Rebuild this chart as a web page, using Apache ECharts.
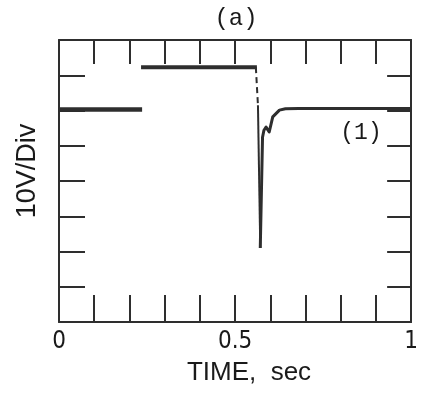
<!DOCTYPE html>
<html>
<head>
<meta charset="utf-8">
<script src="https://cdn.jsdelivr.net/npm/echarts@6/dist/echarts.min.js"></script>
<style>
  html, body { margin: 0; padding: 0; background: #fff; }
  #chart { width: 421px; height: 402px; }
</style>
</head>
<body>
<div id="chart"></div>
<script>
// Oscilloscope trace, vertical scale in divisions (10 V/Div), time in seconds.
const timeBefore = [0, 0.236];
const levelBefore = [6.03, 6.03];

const timeStep = [0.233, 0.562];
const levelStep = [7.23, 7.23];

const timeDrop = [0.559, 0.565];
const levelDrop = [7.23, 6.15];

const timeSpike = [0.565, 0.5716];
const levelSpike = [6.15, 2.10];

const timeRecovery = [0.5716, 0.578, 0.582, 0.588, 0.597, 0.607, 0.626, 0.643, 0.68, 1.0];
const levelRecovery = [2.10, 5.24, 5.44, 5.53, 5.39, 5.82, 6.01, 6.05, 6.06, 6.06];

const timeTickValues = [0, 0.5, 1];
const timeTickLabels = ['0', '0.5', '1'];

const INK = '#2e2e2e';

function pairs(xs, ys) {
  return xs.map((x, i) => [x, ys[i]]);
}

function timeLabel(v) {
  for (let i = 0; i < timeTickValues.length; i++) {
    if (Math.abs(v - timeTickValues[i]) < 1e-9) return timeTickLabels[i];
  }
  return '';
}

function frameAxis(extra) {
  return Object.assign({
    type: 'value',
    axisLine: { show: true, onZero: false, lineStyle: { color: INK, width: 2 } },
    axisTick: { show: true, inside: true, length: 25, lineStyle: { color: INK, width: 2 } },
    splitLine: { show: false },
    axisLabel: { show: false }
  }, extra);
}

const chart = echarts.init(document.getElementById('chart'), null, { renderer: 'canvas' });

chart.setOption({
  animation: false,
  backgroundColor: '#ffffff',
  grid: { left: 59, right: 6, top: 40, bottom: 80 },
  xAxis: [
    frameAxis({
      position: 'bottom', min: 0, max: 1, interval: 0.1,
      axisTick: { show: true, inside: true, length: 27, lineStyle: { color: INK, width: 2 } },
      axisLabel: {
        show: true, margin: 8, formatter: timeLabel,
        showMinLabel: true, showMaxLabel: true,
        color: '#1a1a1a', fontSize: 24,
        fontFamily: "'Liberation Sans Narrow', 'DejaVu Sans Condensed', sans-serif"
      }
    }),
    frameAxis({ position: 'top', min: 0, max: 1, interval: 0.1,
      axisTick: { show: true, inside: true, length: 24, lineStyle: { color: INK, width: 2 } } })
  ],
  yAxis: [
    frameAxis({ position: 'left', min: 0, max: 8, interval: 1,
      axisTick: { show: true, inside: true, length: 26, lineStyle: { color: INK, width: 2 } } }),
    frameAxis({ position: 'right', min: 0, max: 8, interval: 1,
      axisTick: { show: true, inside: true, length: 24, lineStyle: { color: INK, width: 2 } } })
  ],
  series: [
    {
      type: 'line', data: pairs(timeBefore, levelBefore), showSymbol: false,
      lineStyle: { color: INK, width: 4.5, cap: 'butt' }
    },
    {
      type: 'line', data: pairs(timeStep, levelStep), showSymbol: false,
      lineStyle: { color: INK, width: 4, cap: 'butt' }
    },
    {
      type: 'line', data: pairs(timeDrop, levelDrop), showSymbol: false,
      lineStyle: { color: INK, width: 2, type: [6, 4] }
    },
    {
      type: 'line', data: pairs(timeSpike, levelSpike), showSymbol: false,
      lineStyle: { color: INK, width: 2 }
    },
    {
      type: 'line', data: pairs(timeRecovery, levelRecovery), showSymbol: false,
      lineStyle: { color: INK, width: 3, join: 'round' }
    }
  ],
  graphic: [
    {
      type: 'text', x: 236, y: 19,
      style: { text: '(a)', align: 'center', verticalAlign: 'middle',
        font: "24px 'Liberation Mono', 'DejaVu Sans Mono', monospace", fill: '#1a1a1a' }
    },
    {
      type: 'text', x: 361, y: 133,
      style: { text: '(1)', align: 'center', verticalAlign: 'middle',
        font: "23px 'Liberation Mono', 'DejaVu Sans Mono', monospace", fill: '#1a1a1a' }
    },
    {
      type: 'text', x: 249, y: 373,
      style: { text: 'TIME,  sec', align: 'center', verticalAlign: 'middle',
        font: "26px 'Liberation Sans', Arial, sans-serif", fill: '#1a1a1a' }
    },
    {
      type: 'text', x: 28, y: 171, rotation: Math.PI / 2,
      style: { text: '10V/Div', align: 'center', verticalAlign: 'middle',
        font: "27px 'Liberation Sans', Arial, sans-serif", fill: '#1a1a1a' }
    }
  ]
});
</script>
</body>
</html>
